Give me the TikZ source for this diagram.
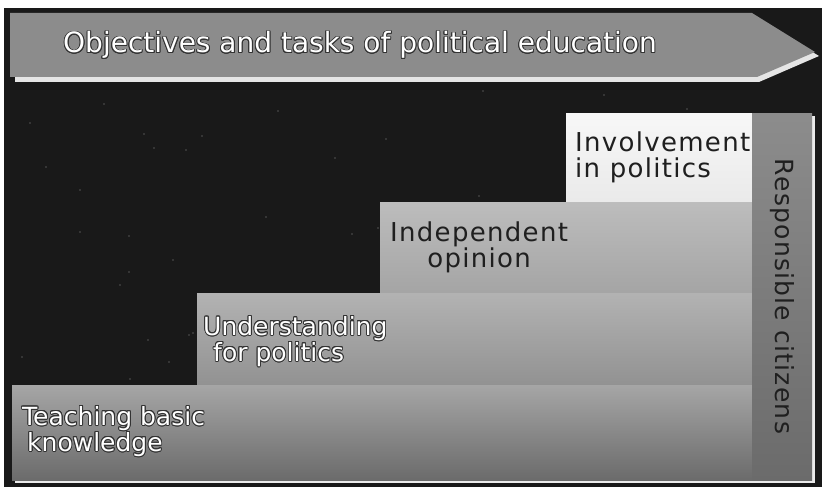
\documentclass[tikz,border=0pt]{standalone}
\usepackage{fontspec}
\setmainfont{DejaVu Sans}
\newfontfamily\spacedfont[LetterSpace=5]{DejaVu Sans}
\usepackage[copies]{contour}
\contourlength{0.9pt}
\usetikzlibrary{positioning}
\newcommand{\glowtext}[1]{\contour{black!80}{#1}} % white letters with a dark rim
\tikzset{
stepbox/.style={rectangle, inner sep=0pt, outer sep=0pt, anchor=north west}, % one stair, hung from its top left corner
lighttext/.style={text=white, inner sep=0pt, align=left, font=\fontsize{25}{26}\selectfont}, % labels on the dark stairs
darktext/.style={text=black!88, inner sep=0pt, font=\spacedfont\fontsize{26}{26}\selectfont}, % labels on the light stairs
titletext/.style={text=white, inner sep=0pt, font=\fontsize{28}{30}\selectfont}, % text on the arrow
bevel/.style={fill=black!8}, % light edge under the stairs
}

\begin{document}
\begin{tikzpicture}[x=1pt, y=-1pt]
  \useasboundingbox (0,0) rectangle (822,487);
  \fill[white] (0,0) rectangle (822,487);
  \fill[black!90] (4,8) rectangle (822,487);

  % faint dots in the night sky
  \pgfmathsetseed{42}
  \foreach \i in {1,...,80}{
    \pgfmathsetmacro{\sx}{12+random(0,740)}
    \pgfmathsetmacro{\sy}{90+random(0,390)}
    \fill[black!68] (\sx,\sy) circle[radius=0.9pt];
  }

  % heading arrow
  \fill[black!10] (15,18) -- (756,18) -- (819,56) -- (759,82) -- (15,82) -- cycle;
  \fill[black!45] (10,13) -- (752,13) -- (815,52) -- (757,77) -- (10,77) -- cycle;
  \node[titletext, anchor=base west] (title) at (63,53) {\glowtext{Objectives and tasks of political education}};

  % stairs
  \fill[bevel] (15,479) rectangle (815,483);
  \fill[bevel] (811,116) rectangle (815,483);
  \node[stepbox, top color=black!3, bottom color=black!25, minimum width=186, minimum height=367] (involve) at (566,113) {};
  \node[stepbox, top color=black!26, bottom color=black!55, minimum width=372, minimum height=278] (opinion) at (380,202) {};
  \node[stepbox, top color=black!30, bottom color=black!56, minimum width=555, minimum height=187] (understand) at (197,293) {};
  \node[stepbox, top color=black!35, bottom color=black!58, minimum width=740, minimum height=95] (basics) at (12,385) {};
  \node[stepbox, top color=black!45, bottom color=black!58, minimum width=60, minimum height=367] (citizens) at (752,113) {};

  \node[lighttext, below right=21pt and 10pt of basics.north west] (basicstext) {\glowtext{Teaching basic}\\\hspace*{5pt}\glowtext{knowledge}};
  \node[lighttext, below right=23pt and 6pt of understand.north west] (understandtext) {\glowtext{Understanding}\\\hspace*{10pt}\glowtext{for politics}};
  \node[darktext, align=center, below right=20pt and 10pt of opinion.north west] (opiniontext) {Independent\\opinion};
  \node[darktext, align=left, below right=19pt and 9pt of involve.north west] (involvetext) {Involvement\\in politics};
  \node[darktext, rotate=-90, font=\spacedfont\fontsize{25}{25}\selectfont] (citizenstext) at (citizens.center) {Responsible citizens};
\end{tikzpicture}
\end{document}
